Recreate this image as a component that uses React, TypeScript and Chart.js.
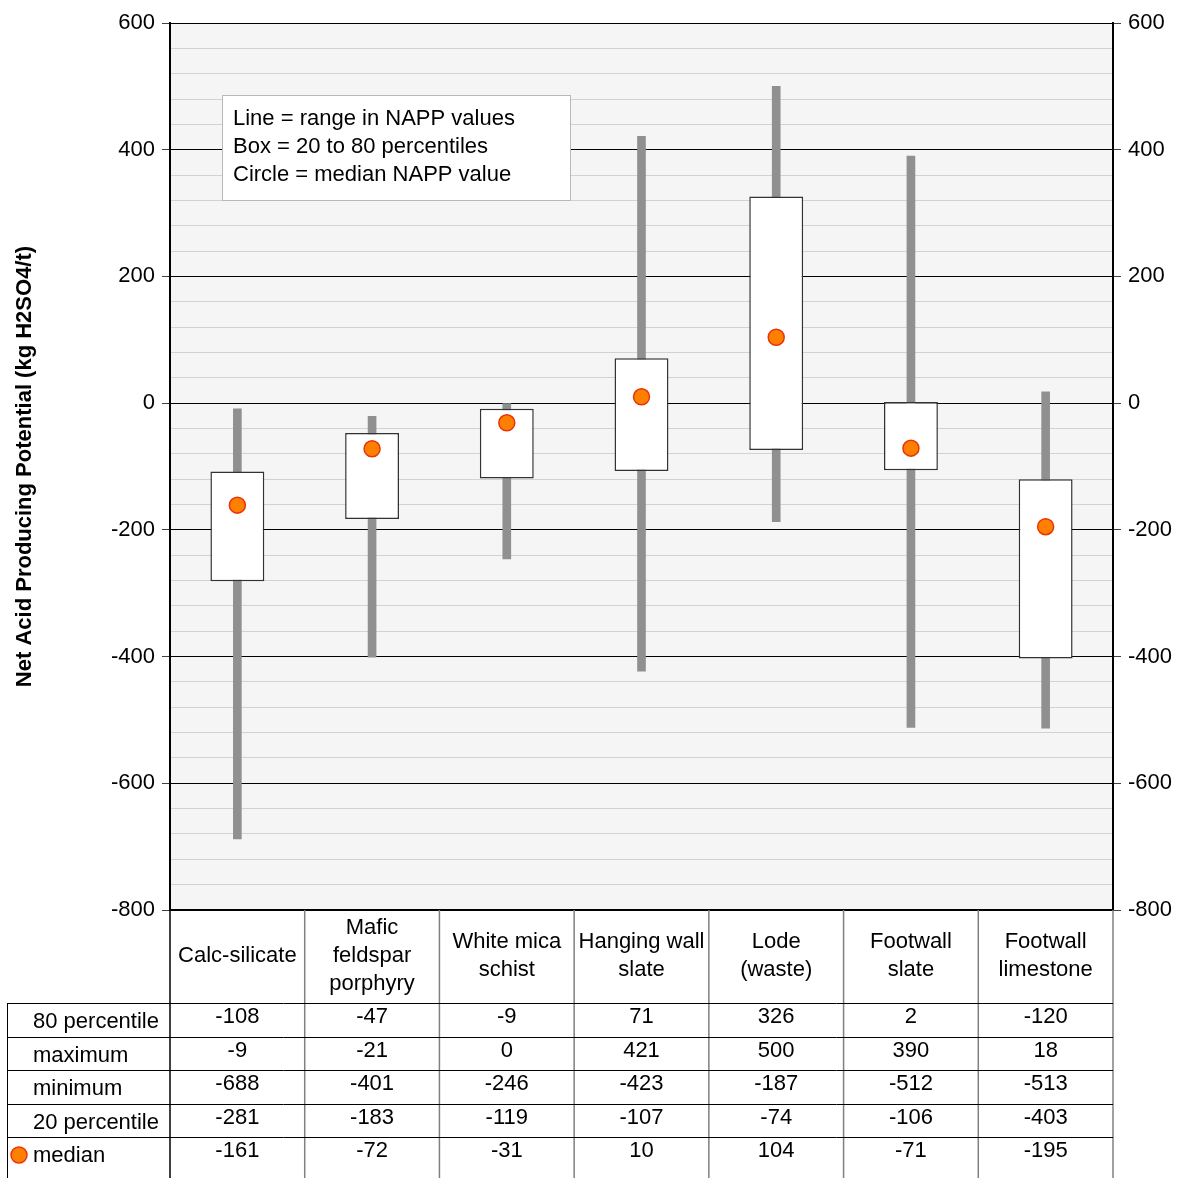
import React, { useEffect, useRef } from 'react';
import { Chart, registerables } from 'chart.js';

Chart.register(...registerables);

// ---- data ----
const categories: (string | string[])[] = [
  'Calc-silicate',
  ['Mafic', 'feldspar', 'porphyry'],
  ['White mica', 'schist'],
  ['Hanging wall', 'slate'],
  ['Lode', '(waste)'],
  ['Footwall', 'slate'],
  ['Footwall', 'limestone'],
];
const p80 = [-108, -47, -9, 71, 326, 2, -120];
const maximum = [-9, -21, 0, 421, 500, 390, 18];
const minimum = [-688, -401, -246, -423, -187, -512, -513];
const p20 = [-281, -183, -119, -107, -74, -106, -403];
const median = [-161, -72, -31, 10, 104, -71, -195];
const rowLabels = ['80 percentile', 'maximum', 'minimum', '20 percentile', 'median'];
const rowValues = [p80, maximum, minimum, p20, median];
const yMin = -800;
const yMax = 600;
const majorStep = 200;
const minorStep = 40;
const yTitle = 'Net Acid Producing Potential (kg H2SO4/t)';
const noteLines = ['Line = range in NAPP values', 'Box = 20 to 80 percentiles', 'Circle = median NAPP value'];

// ---- styles ----
const FONT = '"Liberation Sans", Arial, sans-serif';
const FS = 22;
const W = 1181;
const H = 1178;
const ORANGE = '#ff7f00';
const ORANGE_EDGE = '#e8340a';

const isMajor = (v: number) => Math.abs(v % majorStep) < 1e-6;

const decorPlugin = {
  id: 'decor',
  beforeDraw(chart: any) {
    const { ctx, chartArea } = chart;
    ctx.save();
    ctx.fillStyle = '#ffffff';
    ctx.fillRect(0, 0, chart.width, chart.height);
    ctx.fillStyle = '#f5f5f5';
    ctx.fillRect(chartArea.left, chartArea.top, chartArea.right - chartArea.left, chartArea.bottom - chartArea.top);
    ctx.restore();
  },
  afterDraw(chart: any) {
    const { ctx, chartArea } = chart;
    const xs = chart.scales.x;
    const n = categories.length;
    const cw = (chartArea.right - chartArea.left) / n;
    const tableTop = chartArea.bottom;
    const headerBottom = 1003;
    const rowH = 33.5;
    const bottom = H;
    const leftEdge = 7;
    ctx.save();
    // note box
    const bx = 222.5, by = 95.5, bw = 348, bh = 105;
    ctx.fillStyle = '#ffffff';
    ctx.fillRect(bx, by, bw, bh);
    ctx.strokeStyle = '#b8b8b8';
    ctx.lineWidth = 1;
    ctx.strokeRect(bx, by, bw, bh);
    ctx.fillStyle = '#000';
    ctx.font = `${FS}px ${FONT}`;
    ctx.textAlign = 'left';
    ctx.textBaseline = 'middle';
    noteLines.forEach((t, i) => ctx.fillText(t, 233, 119 + i * 28));

    // table vertical lines
    ctx.lineWidth = 1.5;
    for (let i = 1; i <= n; i++) {
      const x = xs.getPixelForValue(i - 1) + cw / 2;
      ctx.strokeStyle = '#808080';
      ctx.beginPath();
      ctx.moveTo(x, tableTop);
      ctx.lineTo(x, bottom);
      ctx.stroke();
    }
    ctx.strokeStyle = '#000';
    ctx.beginPath();
    ctx.moveTo(chartArea.left, tableTop);
    ctx.lineTo(chartArea.left, bottom);
    ctx.stroke();
    // horizontal lines
    ctx.lineWidth = 1;
    for (let r = 0; r < rowLabels.length; r++) {
      const y = Math.round(headerBottom + r * rowH) + 0.5;
      ctx.beginPath();
      ctx.moveTo(leftEdge, y);
      ctx.lineTo(chartArea.right, y);
      ctx.stroke();
    }
    ctx.beginPath();
    ctx.moveTo(leftEdge + 0.5, headerBottom);
    ctx.lineTo(leftEdge + 0.5, bottom);
    ctx.stroke();

    // row labels and values
    ctx.font = `${FS}px ${FONT}`;
    ctx.fillStyle = '#000';
    for (let r = 0; r < rowLabels.length; r++) {
      const top = headerBottom + r * rowH;
      ctx.textAlign = 'left';
      ctx.fillText(rowLabels[r], 33, top + 19);
      ctx.textAlign = 'center';
      rowValues[r].forEach((v, i) => {
        ctx.fillText(String(v), xs.getPixelForValue(i), top + 14);
      });
    }
    // median marker in legend row
    const my = headerBottom + 4 * rowH + 18;
    ctx.beginPath();
    ctx.arc(19, my, 8, 0, Math.PI * 2);
    ctx.fillStyle = ORANGE;
    ctx.fill();
    ctx.lineWidth = 1.5;
    ctx.strokeStyle = ORANGE_EDGE;
    ctx.stroke();
    ctx.restore();
  },
};

export default function App() {
  const ref = useRef<HTMLCanvasElement>(null);
  useEffect(() => {
    if (!ref.current) return;
    const tickCb = (v: any) => (isMajor(Number(v)) ? String(v) : '');
    const gridColor = (c: any) => (c.tick && isMajor(c.tick.value) ? '#000000' : '#d2d2d2');
    const tickColor = (c: any) => (c.tick && isMajor(c.tick.value) ? '#404040' : 'rgba(0,0,0,0)');
    const chart = new Chart(ref.current, {
      type: 'bar',
      data: {
        labels: categories as any,
        datasets: [
          {
            type: 'line' as const,
            label: 'median',
            data: median,
            showLine: false,
            pointRadius: 8,
            pointHoverRadius: 8,
            pointBackgroundColor: ORANGE,
            pointBorderColor: ORANGE_EDGE,
            pointBorderWidth: 1.5,
            order: 1,
          } as any,
          {
            type: 'bar' as const,
            label: 'box',
            data: p20.map((v, i) => [v, p80[i]]),
            backgroundColor: '#ffffff',
            borderColor: '#333333',
            borderWidth: 1.5,
            borderSkipped: false,
            barPercentage: 0.4,
            categoryPercentage: 1,
            grouped: false,
            order: 2,
          } as any,
          {
            type: 'bar' as const,
            label: 'range',
            data: minimum.map((v, i) => [v, maximum[i]]),
            backgroundColor: '#909090',
            borderWidth: 0,
            barThickness: 8,
            grouped: false,
            order: 3,
          } as any,
        ],
      },
      options: {
        animation: false,
        responsive: false,
        devicePixelRatio: 1,
        layout: { padding: { top: 23, left: 0, right: 0, bottom: 0 } },
        plugins: { legend: { display: false }, tooltip: { enabled: false } },
        scales: {
          x: {
            type: 'category',
            offset: true,
            grid: { display: false, drawTicks: false },
            border: { display: true, color: '#000', width: 2 },
            ticks: {
              color: '#000',
              font: { family: FONT, size: FS, lineHeight: '28px' } as any,
              padding: 18,
              autoSkip: false,
              maxRotation: 0,
              minRotation: 0,
              crossAlign: 'center',
            },
            afterFit: (s: any) => {
              s.height = 268;
            },
          },
          y: {
            position: 'left',
            min: yMin,
            max: yMax,
            ticks: {
              stepSize: minorStep,
              callback: tickCb,
              color: '#000',
              font: { family: FONT, size: FS },
              padding: 7,
              autoSkip: false,
            },
            grid: { color: gridColor, tickColor: tickColor, tickLength: 8, lineWidth: 1 },
            border: { color: '#000', width: 2 },
            title: {
              display: true,
              text: yTitle,
              color: '#000',
              font: { family: FONT, size: FS, weight: 'bold' },
              padding: { top: 12, bottom: 0 },
            },
            afterFit: (s: any) => {
              s.width = 170;
            },
          },
          y2: {
            position: 'right',
            min: yMin,
            max: yMax,
            ticks: {
              stepSize: minorStep,
              callback: tickCb,
              color: '#000',
              font: { family: FONT, size: FS },
              padding: 7,
              autoSkip: false,
            },
            grid: { drawOnChartArea: false, color: gridColor, tickColor: tickColor, tickLength: 8 },
            border: { color: '#000', width: 2 },
            afterFit: (s: any) => {
              s.width = 68;
            },
          },
        },
      } as any,
      plugins: [decorPlugin],
    });
    return () => chart.destroy();
  }, []);
  return (
    <canvas
      ref={ref}
      width={W}
      height={H}
      style={{ position: 'absolute', left: 0, top: 0, width: W, height: H, display: 'block' }}
    />
  );
}
